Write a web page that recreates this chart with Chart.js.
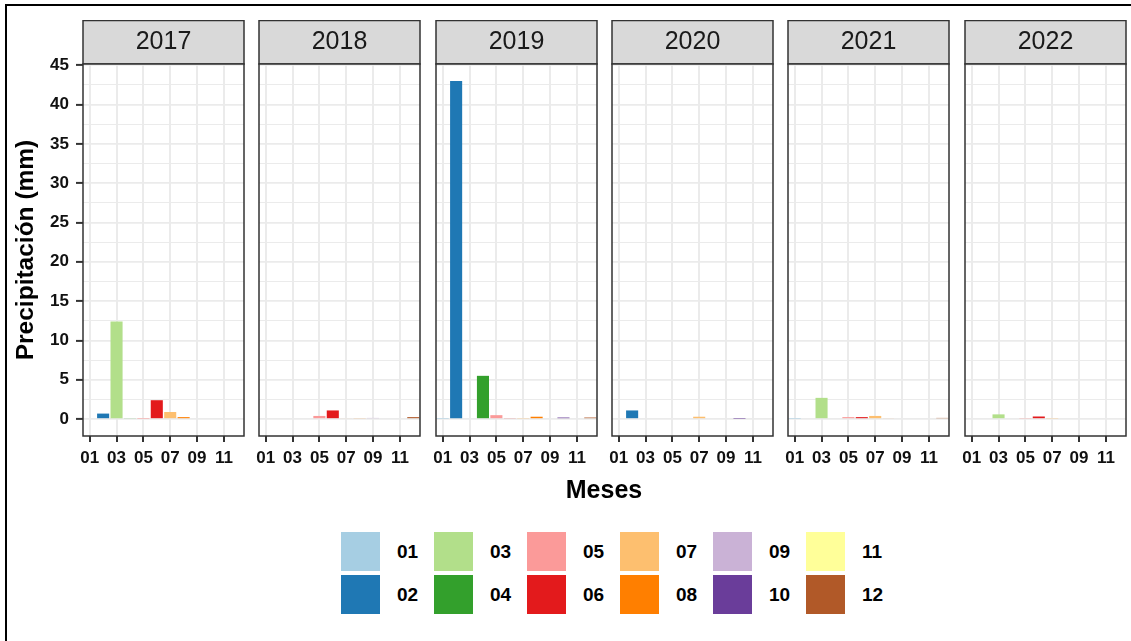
<!DOCTYPE html>
<html>
<head>
<meta charset="utf-8">
<script src="https://cdn.jsdelivr.net/npm/chart.js@4.4.1/dist/chart.umd.min.js"></script>
<style>
  body { margin: 0; width: 1131px; height: 641px; background: #fff; position: relative; overflow: hidden; font-family: 'Liberation Sans', Arial, sans-serif; }
  #frame { position: absolute; left: 5px; top: 4px; width: 1140px; height: 660px; border-top: 2px solid #000; border-left: 2px solid #000; }
  canvas { position: absolute; }
  #xtitle { position: absolute; left: 504px; width: 200px; top: 477px; text-align: center; font-weight: bold; font-size: 25px; line-height: 25px; color: #000; }
  .key { position: absolute; width: 39px; height: 39px; }
  .keylab { position: absolute; font-weight: bold; font-size: 19px; line-height: 39px; color: #000; }
</style>
</head>
<body>
<div id="frame"></div>
<div id="panels"></div>
<div id="xtitle">Meses</div>
<div id="legend"></div>
<script>
const months = ['01', '02', '03', '04', '05', '06', '07', '08', '09', '10', '11', '12'];
const monthColors = ['#A6CEE3', '#1F78B4', '#B2DF8A', '#33A02C', '#FB9A99', '#E31A1C',
  '#FDBF6F', '#FF7F00', '#CAB2D6', '#6A3D9A', '#FFFF99', '#B15928'];
const years = ['2017', '2018', '2019', '2020', '2021', '2022'];

// precipitation (mm) per month
const rain2017 = [0, 0.7, 12.4, 0.1, 0.05, 2.4, 0.9, 0.25, 0, 0, 0, 0];
const rain2018 = [0, 0, 0, 0, 0.4, 1.1, 0.12, 0.1, 0.15, 0, 0, 0.25];
const rain2019 = [0.05, 43.0, 0, 5.5, 0.5, 0.13, 0.08, 0.3, 0, 0.2, 0, 0.2];
const rain2020 = [0, 1.1, 0, 0, 0, 0, 0.3, 0, 0, 0.05, 0, 0];
const rain2021 = [0.05, 0, 2.7, 0, 0.25, 0.25, 0.4, 0.12, 0, 0, 0, 0.15];
const rain2022 = [0, 0, 0.6, 0, 0.08, 0.33, 0.08, 0, 0, 0, 0, 0];
const rainByYear = [rain2017, rain2018, rain2019, rain2020, rain2021, rain2022];

const yTicks = [0, 2.5, 5, 7.5, 10, 12.5, 15, 17.5, 20, 22.5, 25, 27.5, 30, 32.5, 35, 37.5, 40, 42.5, 45];
const yMin = -2.15;
const yMax = 45.15;

const fontFamily = "'Liberation Sans', Arial, sans-serif";
const panelLeft = [83, 259, 436, 612, 788, 965];
const panelWidth = 161;
const canvasTop = 20;
const canvasHeight = 460;

Chart.defaults.animation = false;
Chart.defaults.font.family = fontFamily;

// grey strip behind the year title, and the panel border
const stripPlugin = {
  id: 'strip',
  beforeDraw(chart) {
    const a = chart.chartArea;
    const ctx = chart.ctx;
    ctx.save();
    ctx.fillStyle = '#d9d9d9';
    ctx.fillRect(a.left, 0.5, a.right - a.left, a.top - 0.5);
    ctx.strokeStyle = '#333333';
    ctx.lineWidth = 1.5;
    ctx.strokeRect(a.left, 0.5, a.right - a.left, a.top - 0.5);
    ctx.restore();
  },
  afterDraw(chart) {
    const a = chart.chartArea;
    const ctx = chart.ctx;
    ctx.save();
    ctx.strokeStyle = '#333333';
    ctx.lineWidth = 1.5;
    ctx.strokeRect(a.left, a.top, a.right - a.left, a.bottom - a.top);
    ctx.restore();
  }
};

function makePanel(i) {
  const first = i === 0;
  const yWidth = first ? 77 : 14;
  const canvas = document.createElement('canvas');
  canvas.width = yWidth + panelWidth + 2;
  canvas.height = canvasHeight;
  canvas.style.left = (panelLeft[i] - yWidth) + 'px';
  canvas.style.top = canvasTop + 'px';
  document.getElementById('panels').appendChild(canvas);

  new Chart(canvas.getContext('2d'), {
    type: 'bar',
    data: {
      labels: months,
      datasets: [{
        data: rainByYear[i],
        backgroundColor: monthColors,
        borderWidth: 0,
        categoryPercentage: 0.9,
        barPercentage: 1
      }]
    },
    plugins: [stripPlugin],
    options: {
      responsive: false,
      devicePixelRatio: 1,
      layout: { padding: { left: 0, right: 2, top: 0, bottom: 0 } },
      plugins: {
        legend: { display: false },
        tooltip: { enabled: false },
        title: {
          display: true,
          text: years[i],
          fullSize: false,
          color: '#1a1a1a',
          font: { size: 25, weight: 'normal' },
          padding: { top: 7.5, bottom: 6.5 }
        }
      },
      scales: {
        x: {
          type: 'category',
          offset: true,
          border: { display: false },
          grid: {
            offset: false,
            color: ctx => ctx.index % 2 === 0 ? '#ebebeb' : 'rgba(0,0,0,0)',
            lineWidth: ctx => ctx.index % 2 === 0 ? 2 : 0,
            tickLength: 6,
            tickColor: ctx => ctx.index % 2 === 0 ? '#333333' : 'rgba(0,0,0,0)',
            tickWidth: 2
          },
          ticks: {
            autoSkip: false,
            maxRotation: 0,
            padding: 6,
            color: '#111',
            font: { size: 17, weight: 'bold' },
            callback: function (v, idx) {
              return idx % 2 === 0 ? this.getLabelForValue(v) : '';
            }
          },
          afterFit: s => { s.height = 44; }
        },
        y: {
          min: yMin,
          max: yMax,
          border: { display: false },
          afterBuildTicks: s => { s.ticks = yTicks.map(v => ({ value: v })); },
          grid: {
            color: '#ebebeb',
            lineWidth: ctx => (ctx.tick && ctx.tick.value % 5 === 0) ? 1.8 : 1,
            drawTicks: first,
            tickLength: 7,
            tickColor: ctx => (ctx.tick && ctx.tick.value % 5 === 0) ? '#333333' : 'rgba(0,0,0,0)',
            tickWidth: 2
          },
          ticks: {
            display: first,
            autoSkip: false,
            padding: 7,
            color: '#111',
            font: { size: 17, weight: 'bold' },
            callback: v => v % 5 === 0 ? v : ''
          },
          title: {
            display: first,
            text: 'Precipitación (mm)',
            color: '#000',
            font: { size: 24.5, weight: 'bold' },
            padding: { top: 6, bottom: 0 }
          },
          afterFit: s => { s.width = yWidth; }
        }
      }
    }
  });
}

for (let i = 0; i < years.length; i++) {
  makePanel(i);
}

// legend: two rows, months in column order
const legendEl = document.getElementById('legend');
for (let m = 0; m < months.length; m++) {
  const col = Math.floor(m / 2);
  const row = m % 2;
  const x = 341 + col * 93;
  const y = 532 + row * 43;
  const key = document.createElement('div');
  key.className = 'key';
  key.style.left = x + 'px';
  key.style.top = y + 'px';
  key.style.background = monthColors[m];
  legendEl.appendChild(key);
  const lab = document.createElement('div');
  lab.className = 'keylab';
  lab.style.left = (x + 56) + 'px';
  lab.style.top = y + 'px';
  lab.textContent = months[m];
  legendEl.appendChild(lab);
}
</script>
</body>
</html>
